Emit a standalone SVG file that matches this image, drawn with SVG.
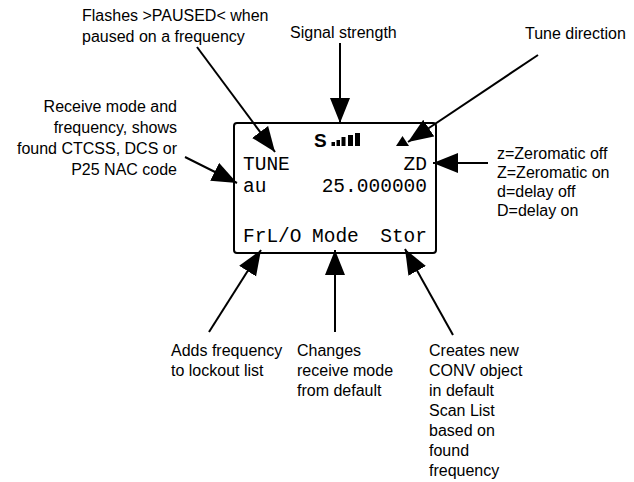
<svg xmlns="http://www.w3.org/2000/svg" width="634" height="482" viewBox="0 0 634 482">
<style>
.lbl{font-family:"Liberation Sans",Arial,sans-serif;font-size:16px;fill:#000}
.lcd{font-family:"Liberation Mono","DejaVu Sans Mono",monospace;font-size:19.5px;fill:#000}
.con{stroke:#000;stroke-width:2;fill:none;marker-end:url(#ah)}
</style>
<defs>
<marker id="ah" markerUnits="userSpaceOnUse" markerWidth="28" markerHeight="22" refX="25" refY="10" orient="auto">
<path d="M0,0 L25,10 L0,20 Z" fill="#000"/>
</marker>
</defs>
<rect width="634" height="482" fill="#fff"/>
<g id="lcd">
<rect x="234" y="123" width="202" height="130" rx="3" fill="#fff" stroke="#000" stroke-width="2"/>
<text x="314" y="147" style="font-family:'Liberation Sans',Arial,sans-serif;font-size:19px;font-weight:bold">S</text>
<rect x="331.5" y="142" width="3.5" height="4"/>
<rect x="336.5" y="140" width="3.5" height="6"/>
<rect x="341.5" y="137" width="4" height="9"/>
<rect x="348" y="135" width="5" height="11"/>
<rect x="355" y="133" width="5" height="13"/>
<polygon points="396,146 409,146 402.5,136"/>
<text class="lcd" x="243" y="170">TUNE</text>
<text class="lcd" x="427" y="170" text-anchor="end">ZD</text>
<text class="lcd" x="243" y="192">au</text>
<text class="lcd" x="427" y="192" text-anchor="end">25.000000</text>
<text class="lcd" x="243" y="242">FrL/O</text>
<text class="lcd" x="312" y="242">Mode</text>
<text class="lcd" x="427" y="242" text-anchor="end">Stor</text>
</g>
<g id="paused">
<text class="lbl" x="82" y="21">Flashes &gt;PAUSED&lt; when</text>
<text class="lbl" x="82" y="42">paused on a frequency</text>
</g>
<g id="signal">
<text class="lbl" x="290" y="38">Signal strength</text>
</g>
<g id="tunedir">
<text class="lbl" x="525" y="39">Tune direction</text>
</g>
<g id="zero">
<text class="lbl" x="497" y="159">z=Zeromatic off</text>
<text class="lbl" x="497" y="178">Z=Zeromatic on</text>
<text class="lbl" x="497" y="197">d=delay off</text>
<text class="lbl" x="497" y="216">D=delay on</text>
</g>
<g id="rxmode" text-anchor="end">
<text class="lbl" x="177" y="112">Receive mode and</text>
<text class="lbl" x="177" y="133">frequency, shows</text>
<text class="lbl" x="177" y="154">found CTCSS, DCS or</text>
<text class="lbl" x="177" y="175">P25 NAC code</text>
</g>
<g id="lockout">
<text class="lbl" x="171" y="356">Adds frequency</text>
<text class="lbl" x="171" y="376">to lockout list</text>
</g>
<g id="mode">
<text class="lbl" x="297" y="356">Changes</text>
<text class="lbl" x="297" y="376">receive mode</text>
<text class="lbl" x="297" y="396">from default</text>
</g>
<g id="stor">
<text class="lbl" x="429" y="356">Creates new</text>
<text class="lbl" x="429" y="376">CONV object</text>
<text class="lbl" x="429" y="396">in default</text>
<text class="lbl" x="429" y="416">Scan List</text>
<text class="lbl" x="429" y="436">based on</text>
<text class="lbl" x="429" y="456">found</text>
<text class="lbl" x="429" y="476">frequency</text>
</g>
<g id="connectors">
<line class="con" x1="197" y1="47" x2="275" y2="152"/>
<line class="con" x1="340" y1="43" x2="340" y2="123"/>
<line class="con" x1="538" y1="55" x2="408" y2="142"/>
<line class="con" x1="488" y1="163" x2="433" y2="163"/>
<line class="con" x1="185" y1="157" x2="237" y2="183"/>
<line class="con" x1="209" y1="332" x2="261" y2="250"/>
<line class="con" x1="335" y1="332" x2="335" y2="250"/>
<line class="con" x1="453" y1="335" x2="405" y2="249"/>
</g>
</svg>
